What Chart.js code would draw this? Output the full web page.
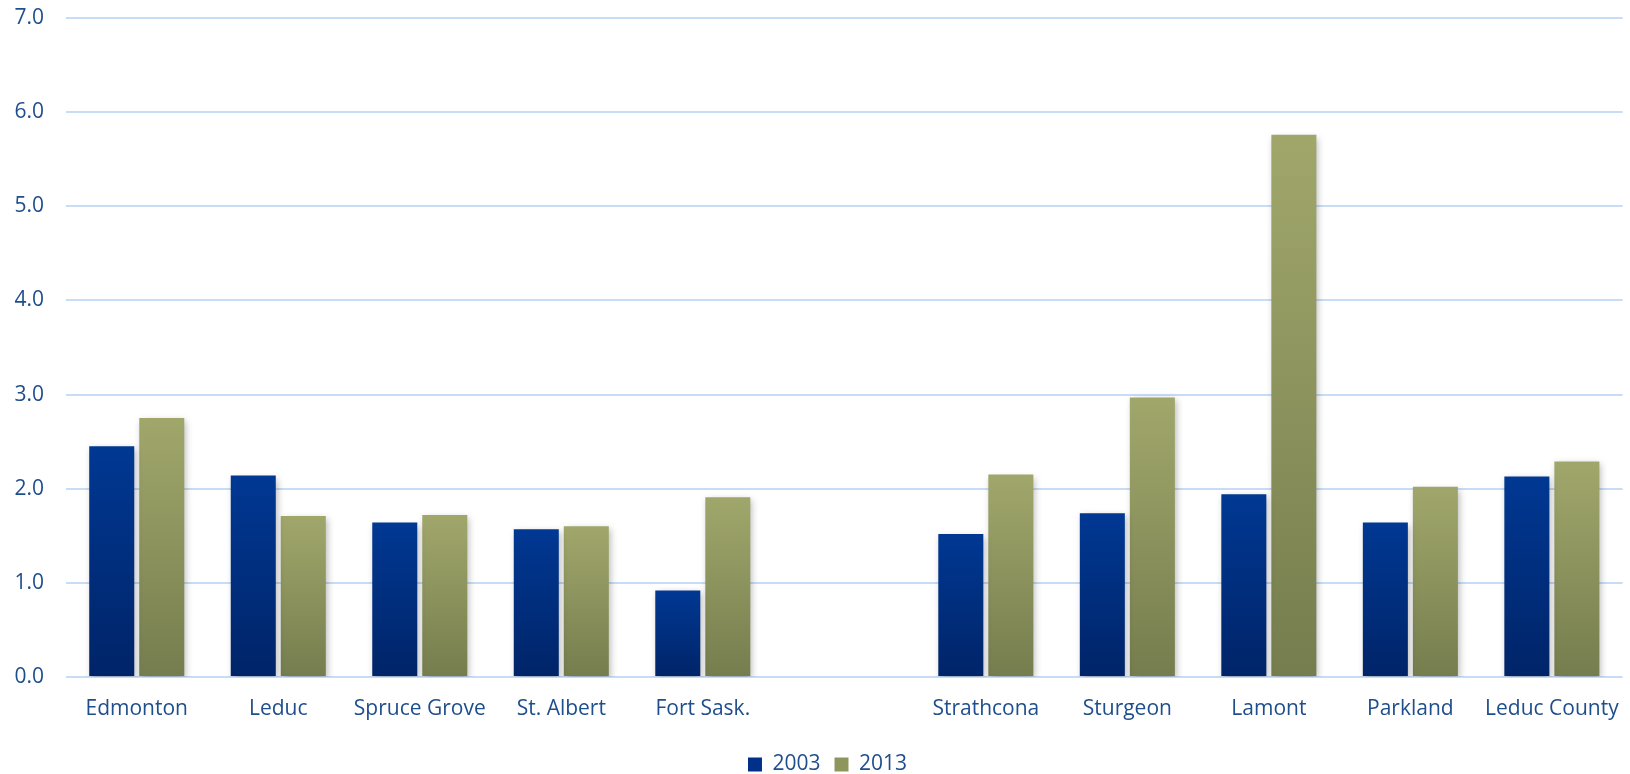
<!DOCTYPE html>
<html>
<head>
<meta charset="utf-8">
<script src="https://cdn.jsdelivr.net/npm/chart.js@4"></script>
<style>
  html, body { margin: 0; padding: 0; background: #fff; }
  #wrap { width: 1630px; height: 774px; position: relative; overflow: hidden; }
  #lienzo { width: 1630px; height: 785px; position: absolute; left: 0; top: 0; }
</style>
</head>
<body>
<div id="wrap"><div id="lienzo"><canvas id="chartRegiones"></canvas></div></div>
<script>
// categorias (la vacia separa los dos grupos)
const categorias = ['Edmonton', 'Leduc', 'Spruce Grove', 'St. Albert', 'Fort Sask.', '',
                    'Strathcona', 'Sturgeon', 'Lamont', 'Parkland', 'Leduc County'];
const valores2003 = [2.45, 2.14, 1.64, 1.57, 0.92, null, 1.52, 1.74, 1.94, 1.64, 2.13];
const valores2013 = [2.75, 1.71, 1.72, 1.60, 1.91, null, 2.15, 2.97, 5.76, 2.02, 2.29];
const ticksY = [0, 1, 2, 3, 4, 5, 6, 7];

const azulTexto = '#1F4E8C';
const fuente = "'Open Sans', sans-serif";

// degradado por barra, de arriba hacia abajo
function gradienteBarra(colorArriba, colorAbajo) {
    return function(context) {
        const chart = context.chart;
        const y = chart.scales && chart.scales.y;
        const v = context.raw;
        if (!chart.chartArea || !y || v == null) return colorArriba;
        const top = y.getPixelForValue(v);
        const base = y.getPixelForValue(0);
        const g = chart.ctx.createLinearGradient(0, top, 0, base);
        g.addColorStop(0, colorArriba);
        g.addColorStop(1, colorAbajo);
        return g;
    };
}

const sombraBarras = {
    id: 'sombraBarras',
    beforeDatasetsDraw(chart) {
        const ctx = chart.ctx;
        ctx.save();
        ctx.shadowColor = 'rgba(0, 0, 0, 0.28)';
        ctx.shadowBlur = 7;
        ctx.shadowOffsetX = 2;
        ctx.shadowOffsetY = 3;
    },
    afterDatasetsDraw(chart) {
        chart.ctx.restore();
    }
};

// la leyenda original queda un poco a la derecha del centro
const moverLeyenda = {
    id: 'moverLeyenda',
    afterLayout(chart) {
        if (chart.legend) {
            chart.legend.left += 16;
            chart.legend.right += 16;
        }
    }
};

const canvas = document.getElementById('chartRegiones');
new Chart(canvas, {
    type: 'bar',
    data: {
        labels: categorias,
        datasets: [
            {
                label: '2003',
                data: valores2003,
                backgroundColor: gradienteBarra('#003893', '#002468'),
                borderWidth: 0
            },
            {
                label: '2013',
                data: valores2013,
                backgroundColor: gradienteBarra('#A1A76B', '#757D4E'),
                borderWidth: 0
            }
        ]
    },
    options: {
        responsive: true,
        maintainAspectRatio: false,
        animation: false,
        categoryPercentage: 0.707,
        barPercentage: 0.9,
        layout: { padding: { top: 0, right: 7, left: 0, bottom: 0 } },
        plugins: {
            tooltip: { enabled: false },
            legend: {
                position: 'bottom',
                labels: {
                    color: azulTexto,
                    font: { family: fuente, size: 21 },
                    boxWidth: 14,
                    boxHeight: 14,
                    padding: 14,
                    generateLabels(chart) {
                        const colores = ['#00308A', '#8E965E'];
                        return chart.data.datasets.map((ds, i) => ({
                            text: ds.label,
                            fillStyle: colores[i],
                            strokeStyle: colores[i],
                            lineWidth: 0,
                            fontColor: azulTexto,
                            datasetIndex: i
                        }));
                    }
                }
            }
        },
        scales: {
            x: {
                grid: { display: false },
                border: { display: false },
                ticks: {
                    color: azulTexto,
                    font: { family: fuente, size: 21 },
                    padding: 11,
                    maxRotation: 0,
                    autoSkip: false
                },
                afterFit(scale) { scale.height = 63; }
            },
            y: {
                min: 0,
                max: 7,
                border: { display: false },
                grid: { color: '#C6DCF7', lineWidth: 2, drawTicks: false },
                afterBuildTicks(scale) { scale.ticks = ticksY.map(v => ({ value: v })); },
                ticks: {
                    color: azulTexto,
                    font: { family: fuente, size: 21 },
                    padding: 22,
                    callback: v => v.toFixed(1)
                },
                afterFit(scale) {
                    scale.width = 66;
                    scale.paddingTop = 18;
                    scale.paddingBottom = 0;
                }
            }
        }
    },
    plugins: [sombraBarras, moverLeyenda]
});
</script>
</body>
</html>
